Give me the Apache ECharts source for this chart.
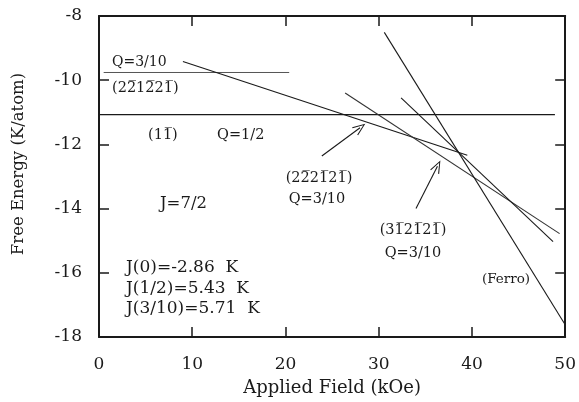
<!DOCTYPE html>
<html>
<head>
<meta charset="utf-8">
<script src="https://cdn.jsdelivr.net/npm/echarts@6/dist/echarts.min.js"></script>
<style>html,body{margin:0;padding:0;background:#fff}#c{width:579px;height:402px}</style>
</head>
<body>
<div id="c"></div>
<script>
// ---- data ----
const xTicks = [0, 10, 20, 30, 40, 50];
const yTicks = [-18, -16, -14, -12, -10, -8];
const flatQ310 = [[0.5, -9.76], [20.4, -9.76]];          // (2 -2 1 -2 2 -1) Q=3/10
const flatQ12 = [[0, -11.07], [48.9, -11.07]];           // (1 -1) Q=1/2
const lineA = [[9.0, -9.42], [39.5, -12.34]];            // (2 -2 2 -1 2 -1) Q=3/10
const lineB = [[26.4, -10.40], [49.4, -14.78]];          // (3 -1 2 -1 2 -1) Q=3/10
const lineC = [[32.4, -10.55], [48.7, -15.03]];
const ferro = [[30.6, -8.51], [50, -17.62]];             // (Ferro)
const arrow1 = [[23.9, -12.36], [28.0, -11.48]];
const arrow2 = [[34.0, -14.0], [36.3, -12.68]];

const FONT = '"DejaVu Serif", "Liberation Serif", serif';
const INK = '#1a1a1a';
const chart = echarts.init(document.getElementById('c'), null, {renderer: 'canvas'});

const arrowHead = 'path://M5,0 L10,13 L9,13.4 L5,2.6 L1,13.4 L0,13 Z';

function lineSeries(name, data, color, width) {
  return {
    name, type: 'line', data, showSymbol: false, symbol: 'none',
    lineStyle: {color: color || INK, width: width || 1.1},
    animation: false, silent: true, z: 3
  };
}

const axisCommon = {
  type: 'value',
  axisLine: {show: true, onZero: false, lineStyle: {color: INK, width: 2}},
  axisTick: {show: true, inside: true, length: 10, lineStyle: {color: INK, width: 1.5}},
  splitLine: {show: false}
};

function txt(text, x, y, size, align, rotation) {
  return {
    type: 'text', x, y, z: 10, rotation: rotation || 0,
    style: {text, fill: INK, font: size + 'px ' + FONT, align: align || 'left', verticalAlign: 'middle'}
  };
}

chart.setOption({
  animation: false,
  backgroundColor: '#fff',
  grid: {left: 99, right: 11, top: 16, bottom: 63, containLabel: false},
  xAxis: [
    Object.assign({}, axisCommon, {
      min: xTicks[0], max: xTicks[xTicks.length - 1], interval: 10, position: 'bottom',
      name: 'Applied Field (kOe)', nameLocation: 'middle', nameGap: 42,
      nameTextStyle: {fontFamily: FONT, fontSize: 18, color: INK, verticalAlign: 'top'},
      axisLabel: {fontFamily: FONT, fontSize: 17, color: INK, margin: 19}
    }),
    Object.assign({}, axisCommon, {
      min: xTicks[0], max: xTicks[xTicks.length - 1], interval: 10, position: 'top',
      axisLabel: {show: false}
    })
  ],
  yAxis: [
    Object.assign({}, axisCommon, {
      min: yTicks[0], max: yTicks[yTicks.length - 1], interval: 2, position: 'left',
      axisLabel: {fontFamily: FONT, fontSize: 17, color: INK, margin: 17}
    }),
    Object.assign({}, axisCommon, {
      min: yTicks[0], max: yTicks[yTicks.length - 1], interval: 2, position: 'right',
      axisLabel: {show: false}
    })
  ],
  series: [
    lineSeries('Q=3/10 flat', flatQ310, '#555', 1),
    lineSeries('Q=1/2', flatQ12, INK, 1.2),
    lineSeries('A', lineA),
    lineSeries('B', lineB, '#333', 1.1),
    lineSeries('C', lineC),
    lineSeries('Ferro', ferro),
    {
      name: 'arrows', type: 'line', data: [], showSymbol: false,
      markLine: {
        silent: true, animation: false,
        symbol: ['none', arrowHead], symbolSize: [10, 13],
        label: {show: false},
        lineStyle: {color: INK, width: 1.1, type: 'solid'},
        data: [
          [{coord: arrow1[0]}, {coord: arrow1[1]}],
          [{coord: arrow2[0]}, {coord: arrow2[1]}]
        ]
      }
    }
  ],
  graphic: [
    txt('Free Energy (K/atom)', 19, 164, 16.5, 'center', Math.PI / 2),
    txt('Q=3/10', 112, 62, 14),
    txt('(22\u030512\u030521\u0305)', 112, 88, 14.5),
    txt('(11\u0305)', 148, 135, 14.5),
    txt('Q=1/2', 217, 135, 14.5),
    txt('J=7/2', 160, 204, 16.5),
    txt('J(0)=-2.86  K', 126, 268, 17),
    txt('J(1/2)=5.43  K', 126, 289, 17),
    txt('J(3/10)=5.71  K', 126, 309, 17),
    txt('(22\u030521\u030521\u0305)', 319, 178, 14.5, 'center'),
    txt('Q=3/10', 317, 199, 14.5, 'center'),
    txt('(31\u030521\u030521\u0305)', 413, 230, 14.5, 'center'),
    txt('Q=3/10', 413, 253, 14.5, 'center'),
    txt('(Ferro)', 506, 279, 13.5, 'center')
  ]
});
</script>
</body>
</html>
